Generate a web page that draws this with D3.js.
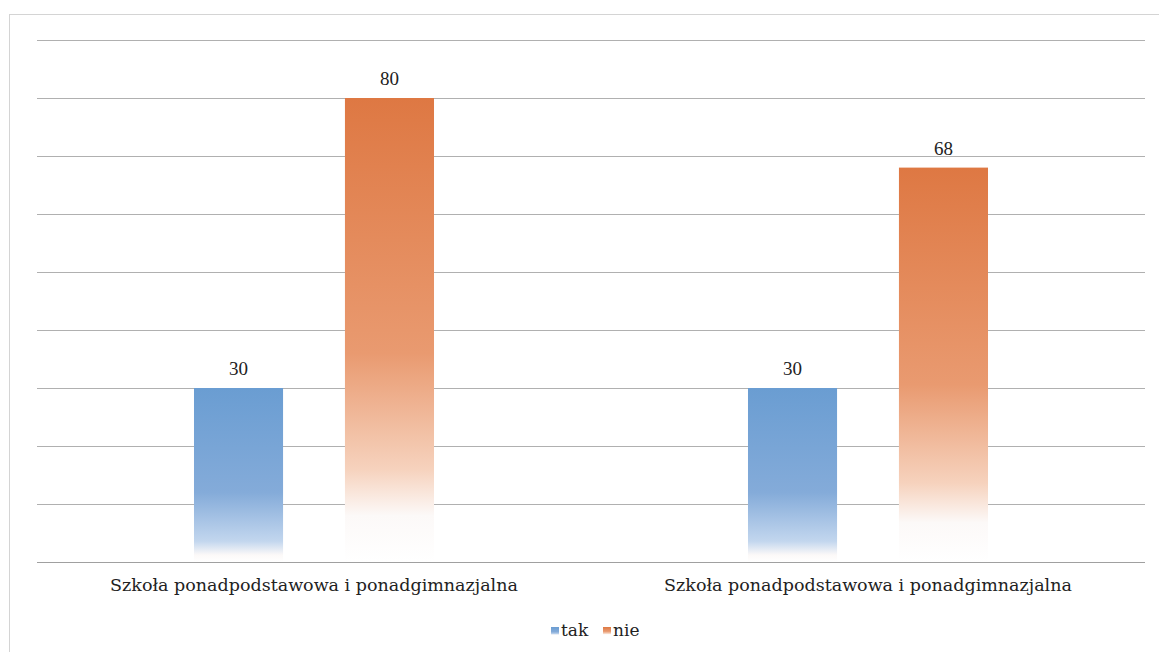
<!DOCTYPE html>
<html>
<head>
<meta charset="utf-8">
<script src="https://cdn.jsdelivr.net/npm/d3@7"></script>
<style>
  body { margin: 0; background: #fff; }
  text { font-family: "DejaVu Serif", "Liberation Serif", serif; fill: #222; }
</style>
</head>
<body>
<svg id="chart" width="1159" height="652"></svg>
<script>
const categories = ['Szkoła ponadpodstawowa i ponadgimnazjalna', 'Szkoła ponadpodstawowa i ponadgimnazjalna'];
const seriesNames = ['tak', 'nie'];
const takValues = [30, 30];
const nieValues = [80, 68];
const yTicks = [0, 10, 20, 30, 40, 50, 60, 70, 80, 90];

const margin = { left: 37, right: 14, top: 40, bottom: 90 };
const W = 1159, H = 652;
const width = W - margin.left - margin.right;
const height = H - margin.top - margin.bottom;

const svg = d3.select('#chart');

// frame of the scanned chart area
svg.append('rect')
    .attr('x', 9.5).attr('y', 14.5)
    .attr('width', W - 5).attr('height', H)
    .attr('fill', 'none')
    .attr('stroke', '#d4d4d4')
    .attr('stroke-width', 1);

const colors = { tak: ['#6a9dd2', '#84abd9', '#c2d6ee'], nie: ['#de7843', '#e99a70', '#f6d2bd'] };
const stops = { tak: [0, 0.6, 0.88, 0.96], nie: [0, 0.55, 0.8, 0.9] };

const defs = svg.append('defs');
seriesNames.forEach(s => {
    const g = defs.append('linearGradient')
        .attr('id', 'grad-' + s)
        .attr('x1', 0).attr('y1', 0).attr('x2', 0).attr('y2', 1);
    g.append('stop').attr('offset', stops[s][0]).attr('stop-color', colors[s][0]);
    g.append('stop').attr('offset', stops[s][1]).attr('stop-color', colors[s][1]);
    g.append('stop').attr('offset', stops[s][2]).attr('stop-color', colors[s][2]);
    g.append('stop').attr('offset', stops[s][3]).attr('stop-color', '#fcf9f8');
    g.append('stop').attr('offset', 1).attr('stop-color', '#ffffff');
});

const chart = svg.append('g').attr('transform', 'translate(' + margin.left + ',' + margin.top + ')');

const x0 = d3.scaleBand().domain(d3.range(categories.length)).range([0, width]);
const x1 = d3.scaleBand().domain(seriesNames).range([0, x0.bandwidth()]).paddingInner(0.41).paddingOuter(1.04);
const y = d3.scaleLinear().domain([0, 90]).range([height, 0]);

// gridlines
chart.append('g')
    .selectAll('line').data(yTicks)
    .enter().append('line')
    .attr('x1', 0).attr('x2', width)
    .attr('y1', d => Math.round(y(d)) + 0.5)
    .attr('y2', d => Math.round(y(d)) + 0.5)
    .attr('stroke', d => d == 0 ? '#a0a0a0' : '#b0b0b0')
    .attr('stroke-width', 1);

const rows = categories.map((c, i) => ({ i: i, tak: takValues[i], nie: nieValues[i] }));

const groups = chart.selectAll('.grp').data(rows)
    .enter().append('g')
    .attr('class', 'grp')
    .attr('transform', d => 'translate(' + x0(d.i) + ',0)');

groups.selectAll('rect')
    .data(d => seriesNames.map(s => ({ s: s, v: d[s] })))
    .enter().append('rect')
    .attr('x', d => x1(d.s))
    .attr('y', d => y(d.v))
    .attr('width', x1.bandwidth())
    .attr('height', d => y(0) - y(d.v))
    .attr('fill', d => 'url(#grad-' + d.s + ')');

groups.selectAll('.val')
    .data(d => seriesNames.map(s => ({ s: s, v: d[s] })))
    .enter().append('text')
    .attr('class', 'val')
    .attr('x', d => x1(d.s) + x1.bandwidth() / 2)
    .attr('y', d => y(d.v) - 13)
    .attr('text-anchor', 'middle')
    .attr('font-size', 19)
    .style('font-family', '"Liberation Serif", serif')
    .text(d => d.v);

// category axis labels
chart.selectAll('.cat').data(rows)
    .enter().append('text')
    .attr('class', 'cat')
    .attr('x', d => x0(d.i) + x0.bandwidth() / 2)
    .attr('y', height + 29)
    .attr('text-anchor', 'middle')
    .attr('font-size', 17.5)
    .text(d => categories[d.i]);

// legend
const legend = svg.append('g').attr('transform', 'translate(551,636)');
const legendX = { tak: 0, nie: 52 };
seriesNames.forEach(s => {
    legend.append('rect')
        .attr('x', legendX[s]).attr('y', -9)
        .attr('width', 8).attr('height', 8)
        .attr('fill', 'url(#grad-' + s + ')');
    legend.append('text')
        .attr('x', legendX[s] + 10).attr('y', 0)
        .attr('font-size', 17)
        .style('font-family', '"DejaVu Serif", serif')
        .text(s);
});
</script>
</body>
</html>
